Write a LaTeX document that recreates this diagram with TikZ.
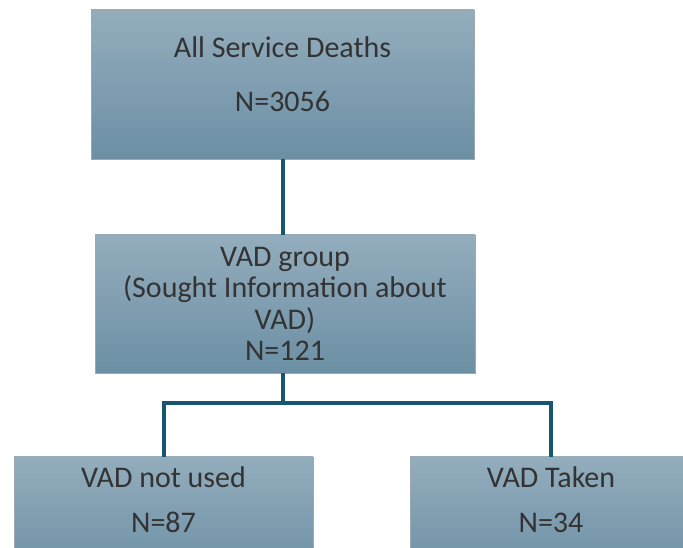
\documentclass[tikz,border=0pt]{standalone}
\usepackage{fontspec}
\setmainfont{Carlito}
\usetikzlibrary{positioning}
\definecolor{BoxTop}{RGB}{147,173,189}
\definecolor{BoxBottom}{RGB}{108,143,164}
\definecolor{BoxEdge}{RGB}{158,168,176}
\definecolor{LinkColor}{RGB}{22,86,112}

\begin{document}
\begin{tikzpicture}[x=0.75pt, y=-0.75pt,
    box/.style={draw=BoxEdge, line width=0.6pt, top color=BoxTop, bottom color=BoxBottom,
      inner sep=0pt, align=center, text=black!80, font=\fontsize{22.5}{23.5}\selectfont},
    link/.style={draw=LinkColor, line width=3pt}]
  \useasboundingbox (0,0) rectangle (683,548);
  \clip (0,0) rectangle (683,548);

  \node[box, minimum width=287.25pt, minimum height=111.75pt] (all) at (282.5,84.5)
    {All Service Deaths\\[17pt]N=3056\rule[-16pt]{0pt}{0pt}};
  \node[box, minimum width=285pt, minimum height=103.5pt] (vad) at (285,304)
    {VAD group\\(Sought Information about\\VAD)\\N=121};
  \node[box, minimum width=224.25pt, minimum height=90pt] (notused) at (163.5,517)
    {VAD not used\\[10.5pt]N=87\rule[-26pt]{0pt}{0pt}};
  \node[box, minimum width=211.5pt, minimum height=90pt] (taken) at (551,517)
    {VAD Taken\\[10.5pt]N=34\rule[-26pt]{0pt}{0pt}};

  % connectors
  \coordinate (split) at (283,403);
  \draw[link] (all.south -| split) -- (vad.north -| split);
  \draw[link] (vad.south -| split) -- (split) -| (notused.north);
  \draw[link] (split) -| (taken.north);
\end{tikzpicture}
\end{document}
